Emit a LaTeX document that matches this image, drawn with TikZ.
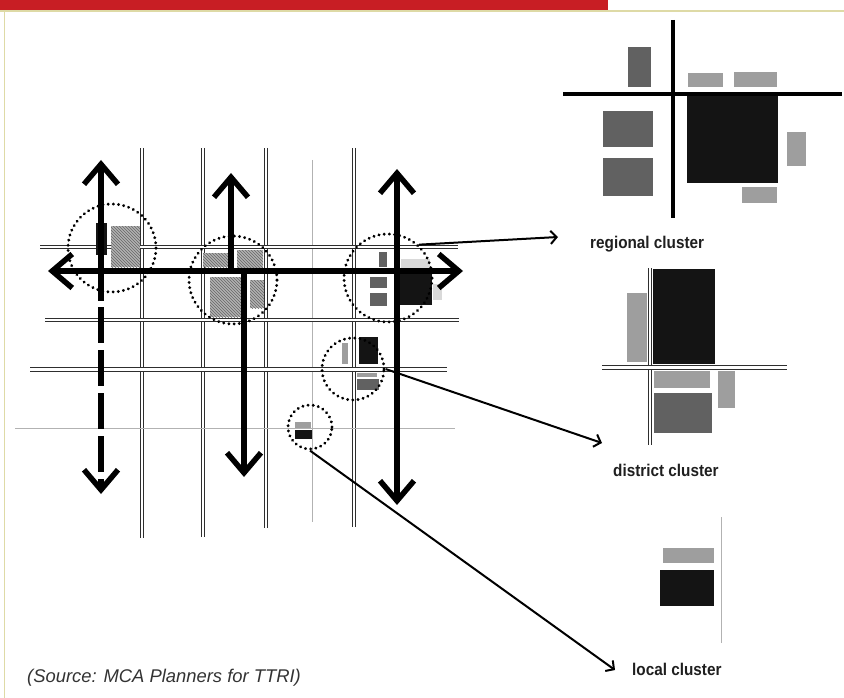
\documentclass[tikz,border=0pt]{standalone}
\usepackage{fontspec}
\setmainfont{Liberation Sans}
\newfontfamily\clusterfont{Liberation Sans}[FakeStretch=0.9]
\usetikzlibrary{arrows.meta,patterns}
\definecolor{barred}{HTML}{C81E24}
\definecolor{frameline}{HTML}{DEDAA6}

\begin{document}
\begin{tikzpicture}[x=1pt, y=-1pt,
    road/.style={draw=black!82, line width=1.2pt, double=white, double distance=2.4pt},
    lane/.style={draw=black!30, line width=0.9pt},
    axis/.style={line width=5.5pt, {Straight Barb[length=20pt,width=34pt]}-{Straight Barb[length=20pt,width=34pt]}},
    ring/.style={circle, draw, line width=3.2pt, line cap=round, dash pattern=on 0.01pt off 5.2pt},
    hatched/.style={fill=black!30, postaction={pattern=north west lines, pattern color=black!60}},
    blk/.style={fill=black!92},
    darkbld/.style={fill=black!62},
    lightbld/.style={fill=black!38},
    faintbld/.style={fill=black!15},
    leader/.style={line width=2pt, -{Straight Barb[length=6pt,width=13pt]}},
    lbl/.style={anchor=base west, inner sep=0pt, text=black!88, font=\clusterfont\bfseries\fontsize{17}{20}\selectfont}
]
\useasboundingbox (0,0) rectangle (844,698);

\fill[barred] (0,0) rectangle (608,10.3);
\draw[frameline, line width=1.5pt] (0,11.2) -- (844,11.2);
\draw[frameline, line width=1.5pt] (4.5,11) -- (4.5,698);

\foreach \rx/\rb in {142/538, 203/537, 266/528, 354/527}
    \draw[road] (\rx,148) -- (\rx,\rb);
\draw[lane] (312,160) -- (312,522);
\draw[road] (40,247) -- (458,247);
\draw[road] (45,320) -- (459,320);
\draw[road] (30,369.5) -- (447,369.5);
\draw[lane] (15,428) -- (455,428);

\fill[hatched] (111,226) rectangle (140,267);
\fill[blk] (96,223) rectangle (107,255);
\fill[hatched] (203,253) rectangle (228,267);
\fill[hatched] (237,250) rectangle (263,268);
\fill[hatched] (210,277) rectangle (242,317);
\fill[hatched] (250,280) rectangle (264,308);
\fill[faintbld] (401,259) rectangle (430,270);
\fill[faintbld] (433,284) rectangle (442,300);
\fill[darkbld] (379,252) rectangle (387,267);
\fill[darkbld] (370,277) rectangle (387,288);
\fill[darkbld] (370,293) rectangle (387,306);
\fill[blk] (398,273) rectangle (432,305);
\fill[blk] (359,337) rectangle (378,364);
\fill[lightbld] (342,343) rectangle (348,364);
\fill[lightbld] (357,373) rectangle (377,377);
\fill[darkbld] (357,379) rectangle (379,390);
\fill[lightbld] (295,422) rectangle (311,428);
\fill[blk] (295,430) rectangle (312,439);

\draw[axis] (48,271) -- (463,271);
\draw[line width=5.5pt, {Straight Barb[length=20pt,width=34pt]}-] (101,160) -- (101,301);
\draw[line width=5.5pt, -{Straight Barb[length=20pt,width=34pt]}, dash pattern=on 36pt off 7pt, dash phase=36pt] (101,300) -- (101,494);
\draw[line width=5.5pt, -{Straight Barb[length=20pt,width=34pt]}] (231,273) -- (231,173);
\draw[line width=5.5pt, -{Straight Barb[length=20pt,width=34pt]}] (244,269) -- (244,477);
\draw[axis] (397,169) -- (397,505);

\node[ring, minimum size=88pt] (westRing) at (112,248) {};
\node[ring, minimum size=88pt] (midRing) at (233,280) {};
\node[ring, minimum size=88pt] (regRing) at (388,278) {};
\node[ring, minimum size=62pt] (distRing) at (353,369) {};
\node[ring, minimum size=44pt] (localRing) at (310,427) {};

\draw[line width=4.5pt] (673,20) -- (673,218);
\draw[line width=4.5pt] (563,94) -- (842,94);
\fill[darkbld] (628,47) rectangle (651,87);
\fill[lightbld] (688,73) rectangle (723,87);
\fill[lightbld] (734,72) rectangle (777,87);
\fill[blk] (687,96) rectangle (778,183);
\fill[darkbld] (603,111) rectangle (653,147);
\fill[darkbld] (603,158) rectangle (653,196);
\fill[lightbld] (787,132) rectangle (806,166);
\fill[lightbld] (742,187) rectangle (777,203);

\fill[blk] (653,269) rectangle (715,364);
\fill[lightbld] (627,293) rectangle (647,362);
\fill[lightbld] (654,371) rectangle (710,388);
\fill[darkbld] (654,393) rectangle (712,433);
\fill[lightbld] (718,371) rectangle (735,408);
\draw[road] (650,268) -- (650,445);
\draw[road] (602,367.5) -- (787,367.5);

\draw[lane] (721,517) -- (721,643);
\fill[lightbld] (663,548) rectangle (714,563);
\fill[blk] (660,570) rectangle (714,606);

\node[lbl] (regLabel) at (590,248) {regional cluster};
\node[lbl] (distLabel) at (613,476) {district cluster};
\node[lbl] (localLabel) at (632,675) {local cluster};
\coordinate (regTip) at (558,237);
\coordinate (distTip) at (602,443);
\coordinate (localTip) at (615,670);
\draw[leader] (regRing.47) -- (regTip);
\draw[leader] (distRing.0) -- (distTip);
\draw[leader] (localRing.-90) -- (localTip);

\node[anchor=base west, inner sep=0pt, text=black!80, font=\itshape\fontsize{18.4}{22}\selectfont] (source) at (27,682) {(Source: MCA Planners for TTRI)};
\end{tikzpicture}
\end{document}
